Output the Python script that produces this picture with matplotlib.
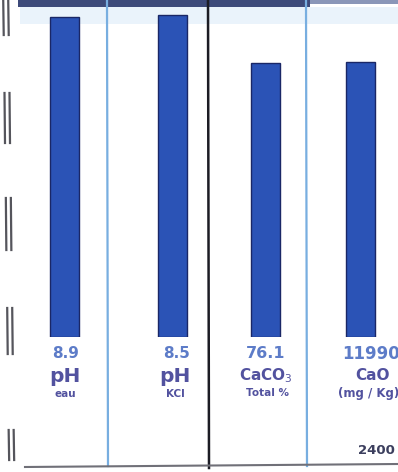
import matplotlib
matplotlib.use("Agg")
import matplotlib.pyplot as plt
from matplotlib.lines import Line2D
from matplotlib.patches import Rectangle

# ---- data ----
categories = ["pH eau", "pH KCl", "CaCO3 Total %", "CaO (mg / Kg)"]
values = [8.9, 8.5, 76.1, 11990]
value_labels = ["8.9", "8.5", "76.1", "11990"]
main_labels = ["pH", "pH", "CaCO$_3$", "CaO"]
sub_labels = ["eau", "KCl", "Total %", "(mg / Kg)"]
extra_label = "2400"

plt.rcParams['font.family'] = ['DejaVu Sans']
plt.rcParams['mathtext.fontset'] = 'dejavusans'

W, H = 398, 472
fig = plt.figure(figsize=(W / 100, H / 100), dpi=100)
fig.patch.set_facecolor("white")

def fx(px):
    return px / W

def fy(py):
    return 1 - py / H

# panel layout in pixels: (left, right, bar centre, ymax)
panels = [
    (20, 107, 64, 9.18),
    (107, 208, 172.5, 8.71),
    (208, 306, 265, 91.6),
    (306, 412, 360, 14390),
]
bar_w = 29
top_px, base_px = 7, 337

bar_color = "#2b53b6"
edge_color = "#1a2766"
val_color = "#5d7cc8"
lab_color = "#52529f"

for i, (L, R, c, ymax) in enumerate(panels):
    ax = fig.add_axes([fx(L), fy(base_px), fx(R - L), (base_px - top_px) / H])
    ax.set_xlim(L - c, R - c)
    ax.set_ylim(0, ymax)
    ax.bar([0], [values[i]], width=bar_w, color=bar_color,
           edgecolor=edge_color, linewidth=1.0)
    ax.axis("off")
    ax.patch.set_alpha(0)

# value labels
fig.text(fx(66), fy(354), value_labels[0], ha="center", va="center",
         fontsize=11, fontweight="bold", color=val_color)
fig.text(fx(177), fy(354), value_labels[1], ha="center", va="center",
         fontsize=11, fontweight="bold", color=val_color)
fig.text(fx(266), fy(354), value_labels[2], ha="center", va="center",
         fontsize=11.5, fontweight="bold", color=val_color)
fig.text(fx(342), fy(354), value_labels[3], ha="left", va="center",
         fontsize=12, fontweight="bold", color=val_color)

# main labels
fig.text(fx(65), fy(376), main_labels[0], ha="center", va="center",
         fontsize=14.5, fontweight="bold", color=lab_color)
fig.text(fx(175), fy(376), main_labels[1], ha="center", va="center",
         fontsize=14.5, fontweight="bold", color=lab_color)
fig.text(fx(266), fy(376), main_labels[2], ha="center", va="center",
         fontsize=11, fontweight="bold", color=lab_color)
fig.text(fx(373), fy(376), main_labels[3], ha="center", va="center",
         fontsize=11, fontweight="bold", color=lab_color)

# sub labels
fig.text(fx(65), fy(394), sub_labels[0], ha="center", va="center",
         fontsize=7.5, fontweight="bold", color=lab_color)
fig.text(fx(175), fy(394), sub_labels[1], ha="center", va="center",
         fontsize=7.5, fontweight="bold", color=lab_color)
fig.text(fx(267), fy(393), sub_labels[2], ha="center", va="center",
         fontsize=7.5, fontweight="bold", color=lab_color)
fig.text(fx(338), fy(393), sub_labels[3], ha="left", va="center",
         fontsize=8.5, fontweight="bold", color=lab_color)

fig.text(fx(376), fy(451), extra_label, ha="center", va="center",
         fontsize=9.5, fontweight="bold", color="#3c3f5e")

# top dark band
fig.add_artist(Rectangle((fx(18), fy(7)), fx(292), 7 / H, transform=fig.transFigure,
                         facecolor="#3d4a7a", edgecolor="none"))
fig.add_artist(Rectangle((fx(310), fy(4)), fx(88), 4 / H, transform=fig.transFigure,
                         facecolor="#8a96b8", edgecolor="none"))
# light tint under band
fig.add_artist(Rectangle((fx(20), fy(24)), fx(378), 17 / H, transform=fig.transFigure,
                         facecolor="#eaf3fb", edgecolor="none", zorder=-1))

# separators
fig.add_artist(Line2D([fx(107), fx(108)], [fy(0), fy(466)], color="#78aee0", lw=1.6))
fig.add_artist(Line2D([fx(208), fx(209)], [fy(0), fy(468)], color="#1c1c24", lw=1.8))
fig.add_artist(Line2D([fx(306), fx(307)], [fy(0), fy(466)], color="#78aee0", lw=1.6))
# bottom line
fig.add_artist(Line2D([fx(25), fx(398)], [fy(467), fy(464)], color="#707078", lw=1.5))

# left double marks
for (a, b) in [(0, 35), (93, 143), (198, 250), (308, 354), (430, 460)]:
    off = (a + b) / 2 / 472 * 6
    for dx in (3 + off, 8 + off):
        fig.add_artist(Line2D([fx(dx), fx(dx + 0.5)], [fy(a), fy(b)],
                              color="#55555c", lw=1.6))

fig.savefig("out.png", dpi=100, facecolor="white")
